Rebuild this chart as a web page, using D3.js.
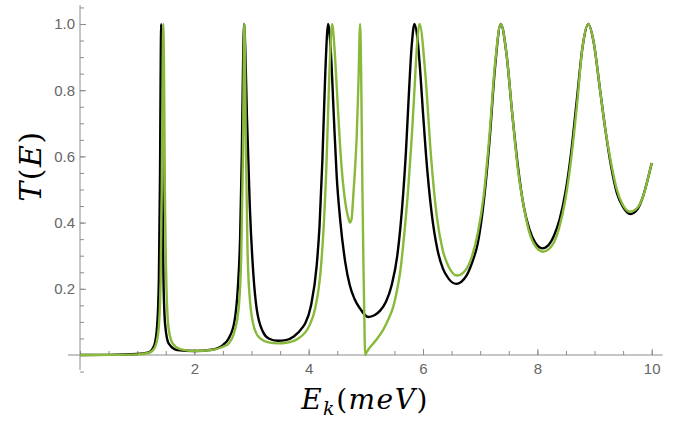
<!DOCTYPE html>
<html>
<head>
<meta charset="utf-8">
<script src="https://cdn.jsdelivr.net/npm/d3@7"></script>
<style>
  body { margin: 0; background: #fff; }
  .tick text { font-family: "Liberation Sans", Arial, sans-serif; font-size: 15px; fill: #666; }
  .tick line { stroke: #8c8c8c; }
</style>
</head>
<body>
<div class="chart"></div>
<script>
// energy grid and transmission, black curve
const blackE = [0, 0.5, 1.0, 1.2, 1.30, 1.35, 1.38, 1.40, 1.41, 1.42, 1.43, 1.44, 1.46, 1.49, 1.55, 1.7,
  2.0, 2.3, 2.5, 2.6, 2.7, 2.76, 2.80, 2.83, 2.85, 2.87, 2.89, 2.92, 2.97, 3.03, 3.09, 3.20, 3.3, 3.46,
  3.6, 3.74, 3.9, 3.94, 4.04, 4.14, 4.19, 4.24, 4.29, 4.34, 4.39, 4.44, 4.49, 4.55, 4.64, 4.72, 4.80,
  4.90, 5.04, 5.15, 5.25, 5.35, 5.45, 5.55, 5.65, 5.70, 5.75, 5.80, 5.85, 5.90, 5.95, 6.00, 6.05, 6.15,
  6.25, 6.35, 6.45, 6.58, 6.76, 6.86, 6.96, 7.06, 7.16, 7.26, 7.36, 7.46, 7.56, 7.66, 7.76, 7.86, 7.96,
  8.09, 8.19, 8.29, 8.39, 8.49, 8.59, 8.69, 8.79, 8.89, 8.99, 9.09, 9.19, 9.29, 9.39, 9.49, 9.63, 9.75,
  9.85, 9.93, 10.0];
const blackT = [0, 0.0005, 0.003, 0.008, 0.03, 0.09, 0.23, 0.55, 0.83, 1.0, 0.83, 0.55, 0.23, 0.09, 0.035, 0.015,
  0.012, 0.016, 0.03, 0.05, 0.1, 0.2, 0.35, 0.6, 0.85, 1.0, 0.93, 0.72, 0.45, 0.25, 0.14, 0.07, 0.05, 0.043,
  0.045, 0.056, 0.085, 0.096, 0.149, 0.27, 0.39, 0.59, 0.85, 1.0, 0.91, 0.72, 0.54, 0.41, 0.28, 0.21, 0.17,
  0.14, 0.115, 0.12, 0.134, 0.16, 0.21, 0.30, 0.48, 0.61, 0.78, 0.93, 1.0, 0.96, 0.86, 0.73, 0.61, 0.43,
  0.32, 0.26, 0.23, 0.215, 0.24, 0.28, 0.34, 0.46, 0.64, 0.87, 1.0, 0.91, 0.73, 0.57, 0.45, 0.38, 0.34,
  0.322, 0.331, 0.36, 0.41, 0.49, 0.61, 0.77, 0.93, 1.0, 0.94, 0.81, 0.68, 0.57, 0.49, 0.45, 0.426, 0.44,
  0.48, 0.53, 0.58];

// green curve
const greenE = [0, 0.5, 1.0, 1.2, 1.30, 1.37, 1.41, 1.43, 1.445, 1.457, 1.47, 1.485, 1.51, 1.55, 1.62, 1.75,
  2.0, 2.3, 2.5, 2.6, 2.7, 2.78, 2.82, 2.85, 2.875, 2.90, 2.93, 2.97, 3.05, 3.15, 3.3, 3.46, 3.61, 3.81,
  4.01, 4.11, 4.21, 4.26, 4.31, 4.36, 4.41, 4.45, 4.50, 4.55, 4.60, 4.65, 4.70, 4.72, 4.75, 4.78, 4.81,
  4.84, 4.87, 4.90, 4.92, 4.94, 4.96, 4.975, 4.985, 5.0, 5.05, 5.13, 5.2, 5.3, 5.4, 5.48, 5.55, 5.60,
  5.68, 5.74, 5.80, 5.85, 5.90, 5.94, 6.04, 6.14, 6.24, 6.34, 6.44, 6.60, 6.76, 6.86, 6.96, 7.06, 7.16,
  7.26, 7.36, 7.46, 7.56, 7.66, 7.76, 7.86, 7.96, 8.10, 8.20, 8.29, 8.39, 8.49, 8.59, 8.69, 8.79, 8.89,
  8.99, 9.09, 9.19, 9.29, 9.39, 9.49, 9.62, 9.75, 9.85, 9.93, 10.0];
const greenT = [0, 0.0004, 0.002, 0.006, 0.02, 0.07, 0.22, 0.5, 0.85, 1.0, 0.85, 0.5, 0.22, 0.08, 0.035, 0.018,
  0.012, 0.015, 0.025, 0.035, 0.07, 0.15, 0.3, 0.6, 1.0, 0.65, 0.32, 0.17, 0.08, 0.05, 0.038, 0.035, 0.037, 0.049,
  0.088, 0.138, 0.256, 0.38, 0.57, 0.84, 1.0, 0.93, 0.78, 0.63, 0.52, 0.45, 0.41, 0.40, 0.41, 0.48, 0.56,
  0.66, 0.82, 1.0, 0.82, 0.5, 0.25, 0.1, 0.0, 0.005, 0.018, 0.035, 0.05, 0.075, 0.11, 0.146, 0.2, 0.25,
  0.38, 0.5, 0.65, 0.8, 0.95, 1.0, 0.85, 0.60, 0.42, 0.32, 0.27, 0.24, 0.26, 0.30, 0.37, 0.48, 0.66,
  0.88, 1.0, 0.91, 0.73, 0.56, 0.45, 0.37, 0.33, 0.312, 0.32, 0.34, 0.39, 0.47, 0.59, 0.75, 0.93, 1.0,
  0.94, 0.81, 0.68, 0.58, 0.50, 0.455, 0.433, 0.445, 0.48, 0.53, 0.58];

const xMajor = [2, 4, 6, 8, 10];
const xMinor = d3.range(0, 10.01, 0.5);
const yMajor = [0.2, 0.4, 0.6, 0.8, 1.0];
const yMinor = d3.range(-0.05, 1.06, 0.05);

const width = 681, height = 422;

const svg = d3.select(".chart")
  .append("svg")
    .attr("width", width)
    .attr("height", height);

const xScale = d3.scaleLinear().domain([0, 10]).range([80, 651.7]);
const yScale = d3.scaleLinear().domain([0, 1]).range([355, 24]);

// minor ticks first, then majors with labels
svg.append("g")
  .attr("transform", `translate(0, ${yScale(0)})`)
  .call(d3.axisBottom(xScale).tickValues(xMinor).tickSizeInner(-4).tickSizeOuter(0).tickFormat(""))
  .call(g => g.select(".domain").remove());

svg.append("g")
  .attr("transform", `translate(0, ${yScale(0)})`)
  .call(d3.axisBottom(xScale).tickValues(xMajor).tickSizeInner(-6).tickSizeOuter(0).tickPadding(8).tickFormat(d3.format("d")))
  .call(g => g.select(".domain").remove());

svg.append("g")
  .attr("transform", `translate(${xScale(0)}, 0)`)
  .call(d3.axisLeft(yScale).tickValues(yMinor.filter(d => Math.abs(d) > 1e-6)).tickSizeInner(-4).tickSizeOuter(0).tickFormat(""))
  .call(g => g.select(".domain").remove());

svg.append("g")
  .attr("transform", `translate(${xScale(0)}, 0)`)
  .call(d3.axisLeft(yScale).tickValues(yMajor).tickSizeInner(-6).tickSizeOuter(0).tickPadding(5).tickFormat(d3.format(".1f")))
  .call(g => g.select(".domain").remove());

// axis lines run over the whole plot range
svg.append("line")
  .attr("x1", xScale(-0.21)).attr("x2", xScale(10.19))
  .attr("y1", yScale(0)).attr("y2", yScale(0))
  .attr("stroke", "#8c8c8c");
svg.append("line")
  .attr("x1", xScale(0)).attr("x2", xScale(0))
  .attr("y1", yScale(1.057)).attr("y2", yScale(-0.045))
  .attr("stroke", "#8c8c8c");

const valueline = d3.line()
  .x(d => xScale(d[0]))
  .y(d => yScale(d[1]))
  .curve(d3.curveMonotoneX);

svg.append("path")
  .datum(d3.zip(blackE, blackT))
  .attr("fill", "none")
  .attr("stroke", "#000")
  .attr("stroke-width", 2.4)
  .attr("stroke-linejoin", "round")
  .attr("d", valueline);

svg.append("path")
  .datum(d3.zip(greenE, greenT))
  .attr("fill", "none")
  .attr("stroke", "#88b93a")
  .attr("stroke-width", 2.4)
  .attr("stroke-linejoin", "round")
  .attr("d", valueline);

// axis titles
const xt = svg.append("text")
  .attr("x", 365).attr("y", 409)
  .attr("text-anchor", "middle")
  .style("font-family", "'DejaVu Serif', serif")
  .style("font-size", "28px")
  .style("letter-spacing", "1.5px");
xt.append("tspan").style("font-style", "italic").text("E");
xt.append("tspan").style("font-style", "italic").style("font-size", "19px").attr("dy", 6).text("k");
xt.append("tspan").attr("dy", -6).text("(");
xt.append("tspan").style("font-style", "italic").text("meV");
xt.append("tspan").text(")");

const yt = svg.append("text")
  .attr("transform", "translate(41, 166) rotate(-90)")
  .attr("text-anchor", "middle")
  .style("font-family", "'DejaVu Serif', serif")
  .style("font-size", "30px")
  .style("letter-spacing", "1.5px");
yt.append("tspan").style("font-style", "italic").text("T");
yt.append("tspan").text("(");
yt.append("tspan").style("font-style", "italic").text("E");
yt.append("tspan").text(")");
</script>
</body>
</html>
